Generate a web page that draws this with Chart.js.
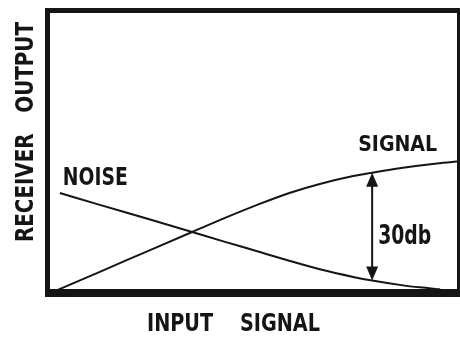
<!DOCTYPE html>
<html>
<head>
<meta charset="utf-8">
<script src="https://cdn.jsdelivr.net/npm/chart.js@4"></script>
<style>
  body { margin: 0; background: #fff; }
  #wrap { width: 460px; height: 337px; }
</style>
</head>
<body>
<div id="wrap"><canvas id="noise-chart" width="460" height="337"></canvas></div>
<script>
// values, input signal 0-100 on x, receiver output 0-100 on y
const signalX = [2.5, 12.7, 24.9, 35.1, 43.1, 50.9, 58.9, 66.1, 74.2, 78.8, 86.3, 94.5, 100]
const signalY = [1.1, 7.5, 15.2, 21.6, 26.6, 31.2, 35.5, 38.6, 41.4, 42.6, 44.3, 45.8, 46.6]
const noiseX = [3.0, 12.7, 24.9, 35.1, 43.1, 50.9, 58.9, 66.1, 74.2, 78.8, 86.3, 90.4, 95.3]
const noiseY = [35.4, 31.2, 26.0, 21.6, 18.1, 14.8, 11.3, 8.4, 5.7, 4.4, 2.7, 2.0, 1.3]
const seriesNames = ["SIGNAL", "NOISE"]
const gapAt = 78.8
const gapLabel = "30db"
const xTitle = "INPUT    SIGNAL"
const yTitle = "RECEIVER   OUTPUT"

const INK = "#151515"

function toPoints(xs, ys) {
    return xs.map((x, i) => { return {x: x, y: ys[i]} })
}

// bold condensed lettering, squeezed to the width seen in the picture
function fitText(ctx, text, x, y, width, cap) {
    let size = cap / 0.73
    ctx.font = `bold ${size}px 'DejaVu Sans Condensed', 'DejaVu Sans', sans-serif`
    let w = ctx.measureText(text).width
    ctx.save()
    ctx.translate(x, y)
    ctx.scale(width / w, 1)
    ctx.textAlign = "left"
    ctx.textBaseline = "alphabetic"
    ctx.fillStyle = INK
    ctx.fillText(text, 0, 0)
    ctx.restore()
}

function arrowHead(ctx, x, y, dir) {
    // dir = 1 points up, -1 points down
    ctx.beginPath()
    ctx.moveTo(x, y)
    ctx.lineTo(x - 6, y + dir * 14)
    ctx.lineTo(x + 6, y + dir * 14)
    ctx.closePath()
    ctx.fill()
}

const sketchPlugin = {
    id: "sketch",
    afterDatasetsDraw(chart) {
        const ctx = chart.ctx
        const ca = chart.chartArea
        const xs = chart.scales.x
        const ys = chart.scales.y
        ctx.save()
        ctx.fillStyle = INK
        ctx.strokeStyle = INK

        // heavy frame round the plot
        ctx.fillRect(ca.left - 2.5, ca.top - 2.5, 5, ca.bottom - ca.top + 6)
        ctx.fillRect(ca.left - 2.5, ca.top - 2.5, ca.right - ca.left + 5, 5)
        ctx.fillRect(ca.right - 2.5, ca.top - 2.5, 5, ca.bottom - ca.top + 6)
        ctx.fillRect(ca.left - 2.5, ca.bottom - 4, ca.right - ca.left + 5, 8)

        // double arrow between the two curves
        let i = signalX.indexOf(gapAt)
        let j = noiseX.indexOf(gapAt)
        let ax = xs.getPixelForValue(gapAt)
        let yTop = ys.getPixelForValue(signalY[i])
        let yBot = ys.getPixelForValue(noiseY[j])
        ctx.lineWidth = 2
        ctx.beginPath()
        ctx.moveTo(ax, yTop + 6)
        ctx.lineTo(ax, yBot - 6)
        ctx.stroke()
        arrowHead(ctx, ax, yTop, 1)
        arrowHead(ctx, ax, yBot, -1)
        fitText(ctx, gapLabel, ax + 6, (yTop + yBot) / 2 + 17, 53, 20)

        // curve names
        let sEnd = ys.getPixelForValue(signalY[signalY.length - 1])
        fitText(ctx, seriesNames[0], ax - 14, sEnd - 10, 79, 16)
        let nx = xs.getPixelForValue(noiseX[0])
        let ny = ys.getPixelForValue(noiseY[0])
        fitText(ctx, seriesNames[1], nx + 3, ny - 8, 65, 18)

        // axis titles
        fitText(ctx, xTitle, 147, 331, 173, 18)
        ctx.save()
        ctx.translate(33, 242)
        ctx.rotate(-Math.PI / 2)
        fitText(ctx, yTitle, 0, 0, 220, 18)
        ctx.restore()

        ctx.restore()
    }
}

function makeNoiseChart() {
    let canvas = document.getElementById("noise-chart")
    const noiseChart = new Chart(canvas, {
        type: "scatter",
        data: {
            datasets: [
                {
                    label: seriesNames[0],
                    data: toPoints(signalX, signalY),
                    showLine: true,
                    borderColor: INK,
                    borderWidth: 2,
                    pointRadius: 0,
                    cubicInterpolationMode: "monotone",
                    clip: false
                },
                {
                    label: seriesNames[1],
                    data: toPoints(noiseX, noiseY),
                    showLine: true,
                    borderColor: INK,
                    borderWidth: 2,
                    pointRadius: 0,
                    cubicInterpolationMode: "monotone",
                    clip: false
                }
            ]
        },
        options: {
            responsive: false,
            animation: false,
            devicePixelRatio: 1,
            layout: {
                padding: {left: 47.5, top: 10.5, right: 0.5, bottom: 44}
            },
            plugins: {
                legend: {display: false},
                tooltip: {enabled: false}
            },
            scales: {
                x: {type: "linear", min: 0, max: 100, display: false},
                y: {type: "linear", min: 0, max: 100, display: false}
            }
        },
        plugins: [sketchPlugin]
    })
    return noiseChart
}

noiseChart = makeNoiseChart()
</script>
</body>
</html>
